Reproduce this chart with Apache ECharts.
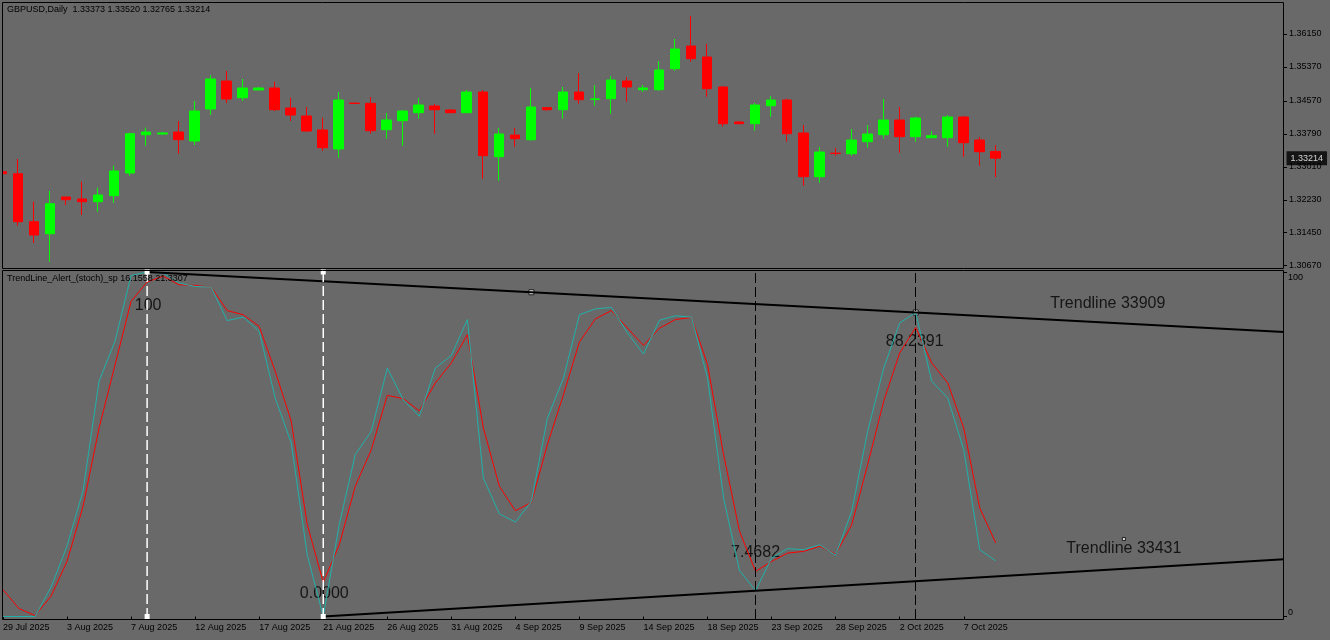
<!DOCTYPE html>
<html><head><meta charset="utf-8">
<script src="https://cdn.jsdelivr.net/npm/echarts/dist/echarts.min.js"></script>
<style>html,body{margin:0;padding:0;background:#696969;}#c{width:1330px;height:640px;}</style>
</head><body><div id="c"></div>
<script>
const symbolName = 'GBPUSD';
const timeframe = 'Daily';
const indicatorName = 'TrendLine_Alert_(stoch)_sp';

const dates = ['29 Jul 2025','30 Jul 2025','31 Jul 2025','1 Aug 2025','3 Aug 2025','4 Aug 2025','5 Aug 2025','6 Aug 2025','7 Aug 2025','8 Aug 2025','10 Aug 2025','11 Aug 2025','12 Aug 2025','13 Aug 2025','14 Aug 2025','15 Aug 2025','17 Aug 2025','18 Aug 2025','19 Aug 2025','20 Aug 2025','21 Aug 2025','22 Aug 2025','24 Aug 2025','25 Aug 2025','26 Aug 2025','27 Aug 2025','28 Aug 2025','29 Aug 2025','31 Aug 2025','1 Sep 2025','2 Sep 2025','3 Sep 2025','4 Sep 2025','5 Sep 2025','7 Sep 2025','8 Sep 2025','9 Sep 2025','10 Sep 2025','11 Sep 2025','12 Sep 2025','14 Sep 2025','15 Sep 2025','16 Sep 2025','17 Sep 2025','18 Sep 2025','19 Sep 2025','21 Sep 2025','22 Sep 2025','23 Sep 2025','24 Sep 2025','25 Sep 2025','26 Sep 2025','28 Sep 2025','29 Sep 2025','30 Sep 2025','1 Oct 2025','2 Oct 2025','3 Oct 2025','5 Oct 2025','6 Oct 2025','7 Oct 2025','8 Oct 2025','9 Oct 2025'];

const open  = [1.32893,1.32846,1.31711,1.31427,1.32295,1.32248,1.32184,1.32326,1.32863,1.33768,1.33785,1.33832,1.33619,1.34376,1.35038,1.34643,1.34826,1.34873,1.34400,1.34211,1.33880,1.33430,1.34515,1.34511,1.33887,1.34100,1.34289,1.34447,1.34353,1.34289,1.34778,1.33248,1.33761,1.33650,1.34407,1.34360,1.34778,1.34605,1.34620,1.35038,1.34833,1.34833,1.35329,1.35866,1.35606,1.34897,1.34069,1.34029,1.34454,1.34589,1.33809,1.32775,1.33332,1.33319,1.33603,1.33768,1.34116,1.33721,1.33697,1.33697,1.34187,1.33643,1.33373];
const high  = [1.32981,1.33194,1.32184,1.32437,1.32295,1.32657,1.32515,1.33035,1.33816,1.33934,1.33832,1.34092,1.34565,1.35180,1.35275,1.35086,1.34897,1.35022,1.34643,1.34424,1.34170,1.34778,1.34520,1.34660,1.34282,1.34353,1.34636,1.34494,1.34376,1.34826,1.34826,1.33927,1.33927,1.34873,1.34424,1.34897,1.35228,1.34944,1.35157,1.35133,1.34944,1.35511,1.36032,1.36576,1.35914,1.34920,1.34092,1.34518,1.34684,1.34620,1.33998,1.33477,1.33454,1.33903,1.33998,1.34613,1.34424,1.34194,1.33856,1.34234,1.34211,1.33714,1.33520];
const low   = [1.32413,1.31616,1.31207,1.30765,1.32106,1.31869,1.31947,1.32153,1.32799,1.33508,1.33768,1.33319,1.33525,1.34234,1.34518,1.34565,1.34826,1.34329,1.34092,1.33840,1.33383,1.33224,1.34503,1.33792,1.33674,1.33508,1.34147,1.33792,1.34280,1.34280,1.32728,1.32680,1.33485,1.33626,1.34336,1.34147,1.34502,1.34454,1.34265,1.34549,1.34785,1.34809,1.35282,1.35495,1.34667,1.33958,1.34020,1.33863,1.34194,1.33603,1.32562,1.32633,1.33272,1.33272,1.33461,1.33674,1.33343,1.33603,1.33690,1.33485,1.33248,1.33035,1.32765];
const close = [1.32846,1.31711,1.31396,1.32136,1.32231,1.32184,1.32342,1.32910,1.33792,1.33832,1.33809,1.33650,1.34329,1.35086,1.34613,1.34873,1.34873,1.34360,1.34234,1.33856,1.33461,1.34589,1.34508,1.33863,1.34116,1.34329,1.34471,1.34360,1.34289,1.34778,1.33272,1.33785,1.33674,1.34424,1.34360,1.34778,1.34596,1.34615,1.35062,1.34897,1.34873,1.35299,1.35795,1.35566,1.34856,1.34029,1.34029,1.34471,1.34589,1.33792,1.32775,1.33359,1.33325,1.33643,1.33785,1.34116,1.33721,1.34163,1.33745,1.34187,1.33579,1.33366,1.33214];

const stochMain   = [0,0,0,8.5,20.5,36.5,68.3,80,99.0,100,99.7,96.8,95.8,95.6,85.9,86.9,82.8,63.4,50.4,17.9,0,26.7,47.0,53.8,72.1,62.9,58.1,72.1,75.8,86.2,40.2,29.8,27.4,33.4,57.6,69.2,87.6,89.3,89.7,82.3,76.2,86.0,87.3,86.9,69.2,34.4,13.3,7.4682,17.0,19.7,19.4,20.8,17.8,30.5,53.8,72.1,85.2,88.2391,68.3,63.4,48.4,19.4,16.1558];
const stochSignal = [7.8,2.3,0.3,5.9,16.0,32.0,54.7,73.1,91.5,97.1,98.8,96.3,96.1,95.6,88.8,87.6,84.2,71.2,56.7,26.7,9.9,20.8,37.8,48.4,64.2,63.2,59.7,67.8,73.6,81.8,54.7,37.8,30.7,33.1,49.9,64.4,79.7,86.4,88.8,83.7,78.7,83.7,86.2,86.8,73.1,47.0,24.7,13.1,16.0,18.4,18.9,20.4,18.1,26.6,44.1,62.5,76.5,83.9,73.6,67.8,54.7,31.5,21.3307];

const priceTicks = [1.36150,1.35370,1.34570,1.33790,1.33010,1.32230,1.31450,1.30670];
const stochTicks = [100, 0];

const upperAnchors = [[9, 100], [57, 88.2391]];
const lowerAnchors = [[20, 0], [47, 7.4682]];
const anchorLabels = ['100', '0.0000', '7.4682', '88.2391'];
const trendNames = ['Trendline 33909', 'Trendline 33431'];
const trendNamePoints = [[69, 90.9], [70, 22.5]];
const whiteVLines = [9, 20];
const blackVLines = [47, 57];
const emptySlots = 18;

// ---- build ----
const cats = dates.concat(Array.from({length: emptySlots}, (_, i) => '_' + i));
const lastIdx = cats.length - 1;
const candles = open.map((o, i) => [o, close[i], low[i], high[i]]);
const lastClose = close[close.length - 1];
function ray(a) {
  const s = (a[1][1] - a[0][1]) / (a[1][0] - a[0][0]);
  return [a[0], a[1], [lastIdx, a[1][1] + s * (lastIdx - a[1][0])]];
}
const FONT = 'Liberation Sans';
const txt = {color: '#000', fontFamily: FONT, fontSize: 9};
const labelIdx = (i) => i % 4 === 0 && i < dates.length;

const anchorPts = [upperAnchors[0], lowerAnchors[0], lowerAnchors[1], upperAnchors[1]];
const anchorOffsets = [[1, 34], [1, -23], [0, -38], [-1, 29]];
const mid = [(upperAnchors[0][0] + upperAnchors[1][0]) / 2, (upperAnchors[0][1] + upperAnchors[1][1]) / 2];

const chart = echarts.init(document.getElementById('c'), null, {renderer: 'canvas'});
chart.setOption({
  animation: false,
  backgroundColor: '#696969',
  title: [
    {text: symbolName + ',' + timeframe + '  ' + [open, high, low, close].map(a => a[a.length - 1].toFixed(5)).join(' '),
     left: 7, top: 5, padding: 0, textStyle: Object.assign({fontWeight: 'normal'}, txt)},
    {text: indicatorName + ' ' + stochMain[stochMain.length - 1].toFixed(4) + ' ' + stochSignal[stochSignal.length - 1].toFixed(4),
     left: 7, top: 274, padding: 0, textStyle: Object.assign({fontWeight: 'normal'}, txt)}
  ],
  grid: [
    {left: 2, top: 2, width: 1282, height: 266, show: false},
    {left: 2, top: 271, width: 1282, height: 348, show: false}
  ],
  xAxis: [
    {type: 'category', gridIndex: 0, data: cats, boundaryGap: false,
     axisLine: {show: false}, axisTick: {show: false}, axisLabel: {show: false}, splitLine: {show: false}},
    {type: 'category', gridIndex: 1, data: cats, boundaryGap: false,
     axisLine: {show: false},
     axisTick: {show: true, length: 3, interval: labelIdx, lineStyle: {color: '#000'}},
     axisLabel: {show: true, interval: labelIdx, align: 'left', margin: 4,
       formatter: (v, i) => (i < dates.length ? v : ''), ...txt},
     splitLine: {show: false}}
  ],
  yAxis: [
    {type: 'value', gridIndex: 0, position: 'right', min: 1.30616, max: 1.36907, scale: true,
     axisLine: {show: false}, splitLine: {show: false},
     axisTick: {show: true, length: 3, customValues: priceTicks, lineStyle: {color: '#000'}},
     axisLabel: {show: true, customValues: priceTicks, margin: 5, formatter: v => v.toFixed(5), ...txt}},
    {type: 'value', gridIndex: 1, position: 'right', min: -0.726, max: 100.29,
     axisLine: {show: false}, splitLine: {show: false},
     axisTick: {show: true, length: 3, customValues: stochTicks, lineStyle: {color: '#000'}},
     axisLabel: {show: true, customValues: stochTicks, margin: 4,
       formatter: v => (v >= 50 ? '{t|' + v + '}' : '{b|' + v + '}'),
       rich: {t: {padding: [12, 0, 0, 0], ...txt}, b: {padding: [0, 0, 7, 0], ...txt}}, ...txt}}
  ],
  series: [
    {type: 'candlestick', xAxisIndex: 0, yAxisIndex: 0, data: candles, barWidth: 10, clip: false,
     itemStyle: {color: '#00ff00', color0: '#ff0000', borderColor: '#00ff00', borderColor0: '#ff0000', borderWidth: 1}},
    {type: 'scatter', xAxisIndex: 0, yAxisIndex: 0, symbolSize: 1, itemStyle: {color: 'rgba(0,0,0,0)'}, clip: false,
     data: [[lastIdx, lastClose]], z: 20,
     label: {show: true, position: 'right', distance: 2, formatter: p => p.value[1].toFixed(5), color: '#fff',
       backgroundColor: '#000', padding: [2, 4, 2, 4], fontFamily: FONT, fontSize: 9, lineHeight: 10}},
    {type: 'line', xAxisIndex: 1, yAxisIndex: 1, data: stochSignal, symbol: 'none',
     lineStyle: {color: '#ff0000', width: 1}},
    {type: 'line', xAxisIndex: 1, yAxisIndex: 1, data: stochMain, symbol: 'none',
     lineStyle: {color: '#20b2aa', width: 1},
     markLine: {symbol: 'none', silent: true, animation: false, label: {show: false},
       lineStyle: {color: '#000', type: [10, 4], width: 1},
       data: blackVLines.map(x => ({xAxis: x}))}},
    {type: 'line', xAxisIndex: 1, yAxisIndex: 1, data: ray(upperAnchors), symbol: 'none',
     lineStyle: {color: '#000', width: 2}},
    {type: 'line', xAxisIndex: 1, yAxisIndex: 1, data: ray(lowerAnchors), symbol: 'none',
     lineStyle: {color: '#000', width: 2}},
    ...whiteVLines.map(x => ({type: 'line', xAxisIndex: 1, yAxisIndex: 1, data: [[x, 100], [x, 0]],
      symbol: 'rect', symbolSize: 5, showSymbol: true, itemStyle: {color: '#fff', borderWidth: 0},
      lineStyle: {color: '#fff', width: 1.5, type: [10, 4]}})),
    {type: 'scatter', xAxisIndex: 1, yAxisIndex: 1, symbol: 'rect', symbolSize: 5,
     itemStyle: {color: '#fff', borderColor: '#000', borderWidth: 1},
     data: [mid, upperAnchors[1]]},
    {type: 'scatter', xAxisIndex: 1, yAxisIndex: 1, symbolSize: 1, itemStyle: {color: 'rgba(0,0,0,0)'},
     data: anchorPts.map((p, i) => ({value: p, label: {show: true, position: 'inside', formatter: anchorLabels[i],
       offset: anchorOffsets[i], color: '#000', fontFamily: FONT, fontSize: 16}}))},
    {type: 'scatter', xAxisIndex: 1, yAxisIndex: 1, symbol: 'rect',
     data: [
       {value: trendNamePoints[0], symbolSize: 1, itemStyle: {color: 'rgba(0,0,0,0)'},
        label: {show: true, position: 'inside', formatter: trendNames[0], color: '#000', fontFamily: FONT, fontSize: 16}},
       {value: trendNamePoints[1], symbolSize: 3, itemStyle: {color: '#fff', borderColor: '#000', borderWidth: 1},
        label: {show: true, position: 'inside', offset: [0, 10], formatter: trendNames[1], color: '#000', fontFamily: FONT, fontSize: 16}}
     ]}
  ],
  graphic: [
    {type: 'rect', z: 99, shape: {x: 0, y: 0, width: 2, height: 640}, style: {fill: '#696969'}, silent: true},
    {type: 'rect', z: 100, shape: {x: 2.5, y: 2.5, width: 1281, height: 266}, style: {fill: 'none', stroke: '#000', lineWidth: 1}, silent: true},
    {type: 'rect', z: 100, shape: {x: 2.5, y: 270.5, width: 1281, height: 349}, style: {fill: 'none', stroke: '#000', lineWidth: 1}, silent: true}
  ]
});
</script></body></html>
